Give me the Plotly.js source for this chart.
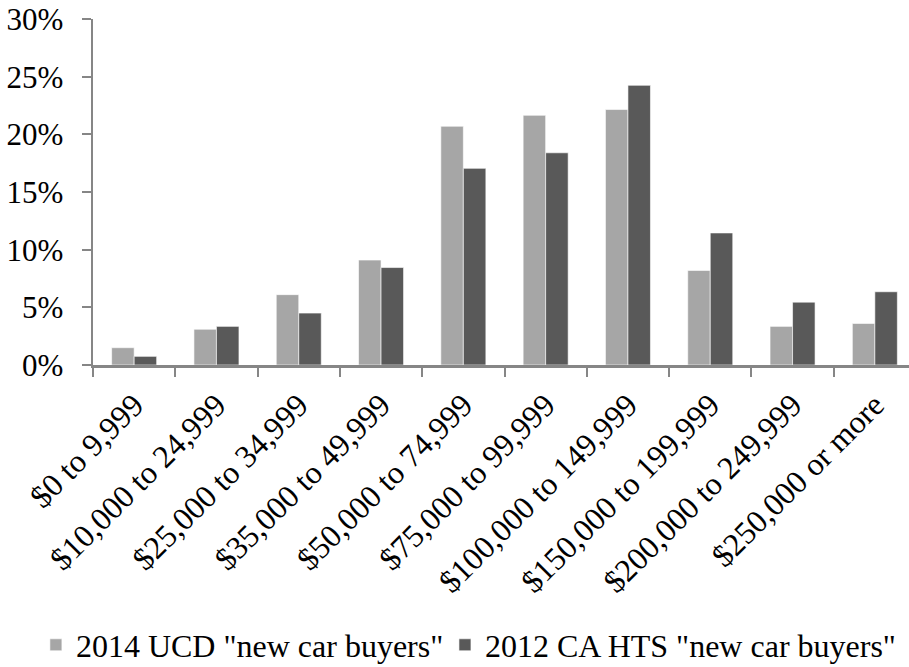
<!DOCTYPE html>
<html>
<head>
<meta charset="utf-8">
<script src="https://cdn.plot.ly/plotly-3.0.1.min.js"></script>
<style>html,body{margin:0;padding:0;background:#fff;}#chart{width:909px;height:667px;}</style>
</head>
<body>
<div id="chart"></div>
<script>
var categories = ["$0 to 9,999", "$10,000 to 24,999", "$25,000 to 34,999", "$35,000 to 49,999",
  "$50,000 to 74,999", "$75,000 to 99,999", "$100,000 to 149,999", "$150,000 to 199,999",
  "$200,000 to 249,999", "$250,000 or more"];
var seriesNames = ['2014 UCD "new car buyers"', '2012 CA HTS "new car buyers"'];
var ucd2014 = [1.5, 3.1, 6.1, 9.1, 20.7, 21.65, 22.15, 8.2, 3.35, 3.6];
var hts2012 = [0.75, 3.35, 4.5, 8.45, 17.05, 18.4, 24.25, 11.45, 5.45, 6.35];
var yTicks = [0, 5, 10, 15, 20, 25, 30];
var yTickLabels = ["0%", "5%", "10%", "15%", "20%", "25%", "30%"];

var font = {family: 'Times New Roman, Liberation Serif, Tinos, DejaVu Serif, serif', color: '#000'};

var traces = [
  {type: 'bar', name: seriesNames[0], x: categories, y: ucd2014, legend: 'legend',
   marker: {color: '#A6A6A6', line: {color: '#ffffff', width: 0.6}}},
  {type: 'bar', name: seriesNames[1], x: categories, y: hts2012, legend: 'legend2',
   marker: {color: '#595959', line: {color: '#ffffff', width: 0.6}}}
];

var legendBase = {orientation: 'h', xref: 'container', yref: 'container', xanchor: 'left',
  y: 0.033, yanchor: 'middle', font: Object.assign({size: 32}, font), bgcolor: 'rgba(0,0,0,0)'};

var layout = {
  width: 909, height: 667,
  margin: {l: 93, r: 0, t: 19, b: 302},
  paper_bgcolor: '#fff', plot_bgcolor: '#fff',
  barmode: 'group', bargap: 0.453, bargroupgap: 0,
  font: Object.assign({size: 31}, font),
  showlegend: true,
  legend: Object.assign({}, legendBase, {x: 0.0395}),
  legend2: Object.assign({}, legendBase, {x: 0.4895}),
  xaxis: {
    type: 'category', range: [-0.5, 9.415], automargin: false,
    showline: true, linecolor: '#868686', linewidth: 2.5,
    ticks: 'outside', tickson: 'boundaries', ticklen: 9, tickwidth: 2, tickcolor: '#868686',
    tickangle: -45, tickfont: Object.assign({size: 32}, font), ticklabelstandoff: 6,
    showgrid: false, zeroline: false, fixedrange: true
  },
  yaxis: {
    range: [0, 30], tickvals: yTicks, ticktext: yTickLabels, automargin: false,
    showline: true, linecolor: '#868686', linewidth: 2.5,
    ticks: 'outside', ticklen: 9, tickwidth: 2, tickcolor: '#868686',
    ticklabelstandoff: 12,
    tickfont: Object.assign({size: 31}, font),
    showgrid: false, zeroline: false, fixedrange: true
  }
};

Plotly.newPlot('chart', traces, layout, {displayModeBar: false, staticPlot: true});
</script>
</body>
</html>
